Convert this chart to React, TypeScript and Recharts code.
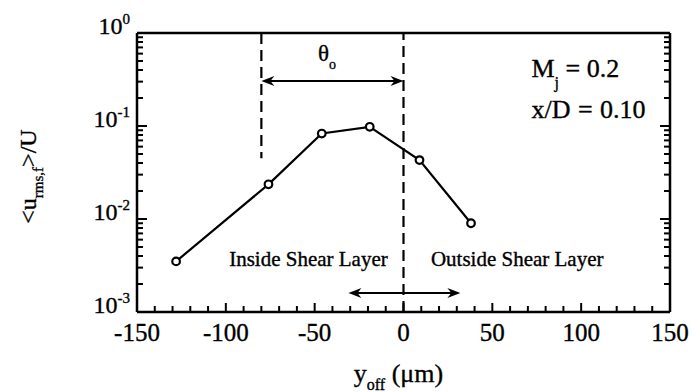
import { LineChart, Line, XAxis, YAxis, ReferenceLine, ReferenceDot } from "recharts";

// measured points: offset (um) vs normalised rms velocity
const yOff = [-128, -76, -46, -19, 9, 38];
const uRms = [0.0035, 0.0236, 0.083, 0.098, 0.043, 0.009];

const xMajor = [-150, -100, -50, 0, 50, 100, 150];
const xTicks = [
  -150, -140, -130, -120, -110, -100, -90, -80, -70, -60, -50, -40, -30, -20, -10, 0,
  10, 20, 30, 40, 50, 60, 70, 80, 90, 100, 110, 120, 130, 140, 150,
];
const yDecades = [0.001, 0.01, 0.1, 1];
const yDecadeExp = ["-3", "-2", "-1", "0"];
const yTicks = [
  0.001, 0.002, 0.003, 0.004, 0.005, 0.006, 0.007, 0.008, 0.009,
  0.01, 0.02, 0.03, 0.04, 0.05, 0.06, 0.07, 0.08, 0.09,
  0.1, 0.2, 0.3, 0.4, 0.5, 0.6, 0.7, 0.8, 0.9, 1,
];

const data = yOff.map((x, i) => ({ x, y: uRms[i] }));

const FONT = "Liberation Serif, Times New Roman, serif";
const INK = "#000";
// scanned print looks a little heavy, so give text a hairline outline
const heavy = { fontFamily: FONT, fill: INK, stroke: INK, strokeWidth: 0.35 };

function isMajorX(v: number) {
  return xMajor.includes(v);
}
function decadeIndex(v: number) {
  return yDecades.findIndex((d) => Math.abs(d - v) < 1e-9);
}

function BottomTick(p: any) {
  const v = p.payload.value;
  const major = isMajorX(v);
  return (
    <g>
      <path d={`M${p.x},${p.y}V${p.y - (major ? 9 : 6)}`} stroke={INK} strokeWidth={2} fill="none" />
      {major && (
        <text x={p.x} y={p.y + 29} textAnchor="middle" fontSize={25} {...heavy}>
          {String(v)}
        </text>
      )}
    </g>
  );
}

function TopTick(p: any) {
  const major = isMajorX(p.payload.value);
  return <path d={`M${p.x},${p.y}V${p.y + (major ? 9 : 6)}`} stroke={INK} strokeWidth={2} fill="none" />;
}

function LeftTick(p: any) {
  const k = decadeIndex(p.payload.value);
  return (
    <g>
      <path d={`M${p.x},${p.y}H${p.x + (k >= 0 ? 10 : 6)}`} stroke={INK} strokeWidth={2} fill="none" />
      {k >= 0 && (
        <text x={p.x - 7} y={p.y + 1} textAnchor="end" fontSize={24} {...heavy}>
          10
          <tspan dy={-10} fontSize={15}>
            {yDecadeExp[k]}
          </tspan>
        </text>
      )}
    </g>
  );
}

function RightTick(p: any) {
  const k = decadeIndex(p.payload.value);
  return <path d={`M${p.x},${p.y}H${p.x - (k >= 0 ? 10 : 6)}`} stroke={INK} strokeWidth={2} fill="none" />;
}

function Dot(p: any) {
  if (p.cx == null || p.cy == null) return <g />;
  return <circle cx={p.cx} cy={p.cy} r={3.8} fill="#fff" stroke={INK} strokeWidth={2.2} />;
}

function DoubleArrow(p: any) {
  const { x1, y1, x2, y2 } = p;
  return (
    <g>
      <line x1={x1 + 4} y1={y1} x2={x2 - 4} y2={y2} stroke={INK} strokeWidth={2} />
      <path d={`M${x1},${y1} L${x1 + 13},${y1 - 5} L${x1 + 9},${y1} L${x1 + 13},${y1 + 5} Z`} fill={INK} />
      <path d={`M${x2},${y2} L${x2 - 13},${y2 - 5} L${x2 - 9},${y2} L${x2 - 13},${y2 + 5} Z`} fill={INK} />
    </g>
  );
}

const note = (render: (x: number, y: number) => any) => (p: any) => <g>{render(p.cx, p.cy)}</g>;

function XTitle(p: any) {
  const vb = p.viewBox;
  const cx = vb.x + vb.width / 2 - 5;
  return (
    <text x={cx} y={382} textAnchor="middle" fontSize={26} {...heavy}>
      y
      <tspan dy={8} fontSize={16}>off</tspan>
      <tspan dy={-8}> (μm)</tspan>
    </text>
  );
}

function YTitle(p: any) {
  const vb = p.viewBox;
  const cx = 36;
  const cy = vb.y + vb.height / 2 + 4;
  return (
    <text x={cx} y={cy} transform={`rotate(-90, ${cx}, ${cy})`} textAnchor="middle" fontSize={24} {...heavy}>
      {"<u"}
      <tspan dy={7} fontSize={15}>rms,f</tspan>
      <tspan dy={-7}>{">/U"}</tspan>
    </text>
  );
}

export default function App() {
  return (
    <div style={{ position: "absolute", left: 0, top: 0, background: "#fff" }}>
      <LineChart width={693} height={392} data={data} margin={{ top: 0, right: 0, bottom: 0, left: 0 }}>
        <XAxis
          xAxisId="b"
          dataKey="x"
          type="number"
          domain={[-150, 150]}
          ticks={xTicks}
          interval={0}
          height={80}
          tickSize={0}
          tickMargin={0}
          tickLine={false}
          tick={BottomTick}
          axisLine={{ stroke: INK, strokeWidth: 2.5 }}
          label={{ content: XTitle }}
        />
        <XAxis
          xAxisId="t"
          orientation="top"
          type="number"
          domain={[-150, 150]}
          ticks={xTicks}
          interval={0}
          height={33}
          tickSize={0}
          tickMargin={0}
          tickLine={false}
          tick={TopTick}
          axisLine={{ stroke: INK, strokeWidth: 2.5 }}
        />
        <YAxis
          yAxisId="l"
          scale="log"
          domain={[0.001, 1]}
          allowDataOverflow
          ticks={yTicks}
          interval={0}
          width={137}
          tickSize={0}
          tickMargin={0}
          tickLine={false}
          tick={LeftTick}
          axisLine={{ stroke: INK, strokeWidth: 2.5 }}
          label={{ content: YTitle }}
        />
        <YAxis
          yAxisId="r"
          orientation="right"
          scale="log"
          domain={[0.001, 1]}
          allowDataOverflow
          ticks={yTicks}
          interval={0}
          width={23}
          tickSize={0}
          tickMargin={0}
          tickLine={false}
          tick={RightTick}
          axisLine={{ stroke: INK, strokeWidth: 2.5 }}
        />

        <ReferenceLine xAxisId="b" yAxisId="l" x={0} stroke={INK} strokeWidth={2.2} strokeDasharray="11 6" />
        <ReferenceLine
          xAxisId="b"
          yAxisId="l"
          segment={[{ x: -80, y: 1 }, { x: -80, y: 0.045 }]}
          stroke={INK}
          strokeWidth={2.2}
          strokeDasharray="11 6"
        />
        <ReferenceLine
          xAxisId="b"
          yAxisId="l"
          segment={[{ x: -80, y: 0.305 }, { x: 0, y: 0.305 }]}
          shape={DoubleArrow}
        />
        <ReferenceLine
          xAxisId="b"
          yAxisId="l"
          segment={[{ x: -31, y: 0.0016 }, { x: 32, y: 0.0016 }]}
          shape={DoubleArrow}
        />

        <Line
          xAxisId="b"
          yAxisId="l"
          dataKey="y"
          stroke={INK}
          strokeWidth={2.2}
          dot={Dot}
          activeDot={false}
          isAnimationActive={false}
        />

        <ReferenceDot
          xAxisId="b"
          yAxisId="l"
          x={-43}
          y={0.5}
          r={0}
          shape={note((x, y) => (
            <text x={x} y={y} textAnchor="middle" fontSize={23} {...heavy}>
              θ
              <tspan dy={8} fontSize={14}>o</tspan>
            </text>
          ))}
        />
        <ReferenceDot
          xAxisId="b"
          yAxisId="l"
          x={72}
          y={0.336}
          r={0}
          shape={note((x, y) => (
            <text x={x} y={y} fontSize={26} {...heavy}>
              M
              <tspan dy={11} fontSize={16}>j</tspan>
              <tspan dy={-11}> = 0.2</tspan>
            </text>
          ))}
        />
        <ReferenceDot
          xAxisId="b"
          yAxisId="l"
          x={72}
          y={0.122}
          r={0}
          shape={note((x, y) => (
            <text x={x} y={y} fontSize={26} wordSpacing={1} {...heavy}>
              x/D = 0.10
            </text>
          ))}
        />
        <ReferenceDot
          xAxisId="b"
          yAxisId="l"
          x={-53.5}
          y={0.0031}
          r={0}
          shape={note((x, y) => (
            <text x={x} y={y} textAnchor="middle" fontSize={21} {...heavy}>
              Inside Shear Layer
            </text>
          ))}
        />
        <ReferenceDot
          xAxisId="b"
          yAxisId="l"
          x={64}
          y={0.0031}
          r={0}
          shape={note((x, y) => (
            <text x={x} y={y} textAnchor="middle" fontSize={21} {...heavy}>
              Outside Shear Layer
            </text>
          ))}
        />
      </LineChart>
    </div>
  );
}
